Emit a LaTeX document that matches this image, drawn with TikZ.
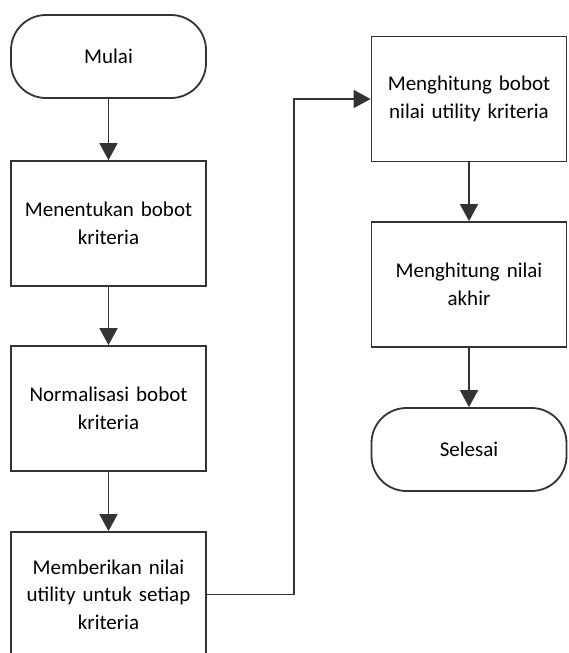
\documentclass[tikz,border=0pt]{standalone}
\usepackage{fontspec}
\setmainfont{Carlito}[WordSpace=0.7]
\usetikzlibrary{arrows.meta}

\begin{document}
\begin{tikzpicture}[x=1pt, y=-1pt,
			>={Triangle[length=17pt,width=18pt]},   %Pfeilspitzen
			linie/.style={draw=black!80, line width=1.8pt},
			kasten/.style={linie, fill=white, minimum width=195pt, minimum height=125pt, text width=185pt, align=center, inner sep=0pt},
			ende/.style={kasten, minimum height=83pt, rounded corners=35pt},
			font=\fontsize{21}{27.5}\selectfont]
			%Bildbereich
			\useasboundingbox (0,0) rectangle (568,653);
			\clip (0,0) rectangle (568,653);
			% linke Spalte
			\node[ende]   (mulai)   at (108.5,56.5)  {Mulai};
			\node[kasten] (bobot)   at (108.5,223.5) {Menentukan bobot\\kriteria};
			\node[kasten] (normal)  at (108.5,408.5) {Normalisasi bobot\\kriteria};
			\node[kasten] (utility) at (108.5,594.5) {Memberikan nilai\\utility untuk setiap\\kriteria};
			% rechte Spalte
			\node[kasten] (hitung)  at (469,99)      {Menghitung bobot\\nilai utility kriteria};
			\node[kasten] (akhir)   at (469,284.5)   {Menghitung nilai\\akhir};
			\node[ende]   (selesai) at (469,449.5)   {Selesai};
			% Pfeile zeichnen
			\draw[linie,->] (mulai) -- (bobot);
			\draw[linie,->] (bobot) -- (normal);
			\draw[linie,->] (normal) -- (utility);
			\coordinate (knick) at (294,594.5);
			\draw[linie,->] (utility.east) -- (knick) |- (hitung.west);
			\draw[linie,->] (hitung) -- (akhir);
			\draw[linie,->] (akhir) -- (selesai);
		\end{tikzpicture}
\end{document}
